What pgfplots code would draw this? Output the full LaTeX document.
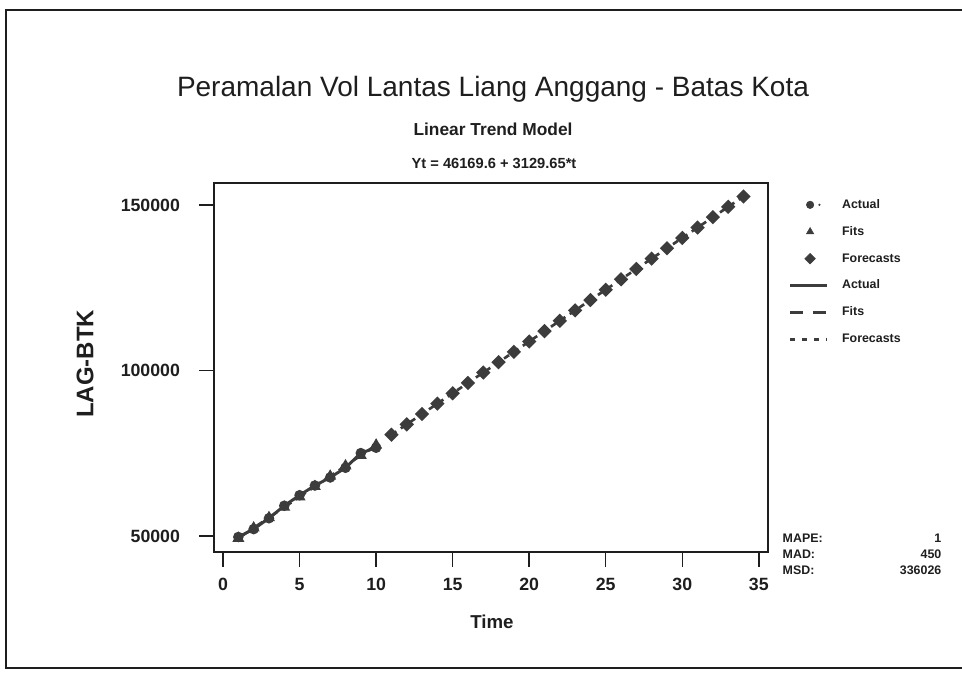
\documentclass[border=0pt]{standalone}
\usepackage{fontspec}
\setmainfont{Liberation Sans}
\usepackage{pgfplots}
\pgfplotsset{compat=1.18}
\definecolor{ink}{HTML}{1E1E1E}
\definecolor{series}{HTML}{3C3C3C}
\newcommand{\fs}[1]{\fontsize{#1}{#1}\selectfont}
% legend pictures: a single symbol, or a short line
\pgfplotsset{
  symbolkey/.style={legend image code/.code={\draw[##1] plot coordinates {(15pt,0pt)};}},
  actualkey/.style={legend image code/.code={\draw[##1] plot coordinates {(15pt,0pt)};
      \fill[series] (22pt,0pt) circle (0.6pt);}},
  linekey/.style={legend image code/.code={\draw[##1] (0pt,0pt) -- (28pt,0pt);}},
}

\begin{document}
\begin{tikzpicture}
\useasboundingbox (0,0) rectangle (721.5pt,504.75pt);
\begin{axis}[
  at={(160.5pt,90.75pt)}, anchor=south west,
  scale only axis, width=415.5pt, height=276.75pt,
  xmin=-0.59, xmax=35.6, ymin=45166, ymax=156647,
  xtick={0,5,...,35}, ytick={50000,100000,150000},
  xticklabels={0,5,10,15,20,25,30,35},
  yticklabels={50000,100000,150000},
  scaled y ticks=false,
  xtick pos=lower, ytick pos=left,
  tick align=outside,
  major tick length=11pt,
  every tick/.style={ink, line width=1.1pt},
  axis line style={ink, line width=1.2pt},
  y tick label style={xshift=-11pt},
  x tick label style={yshift=-5pt},
  tick label style={font=\bfseries\fs{13.3}, text=ink},
  legend style={at={(axis description cs:1.037,0.965)}, anchor=north west,
    draw=none, fill=none, inner sep=0pt, row sep=7.2pt, column sep=8pt,
    font=\bfseries\fs{9.3}, text=ink,
    nodes={inner sep=2pt, text height=7pt, text depth=2pt}},
  legend cell align=left,
]
% fitted trend, t = 1..10
\addplot[forget plot, series, line width=2pt, dash pattern=on 9pt off 4pt,
  mark=triangle*, mark size=3.2pt, mark options={solid}] coordinates {
  (1,49299.3) (2,52428.9) (3,55558.6) (4,58688.2) (5,61817.9)
  (6,64947.5) (7,68077.2) (8,71206.8) (9,74336.5) (10,77466.1)};
% observed volumes, t = 1..10
\addplot[forget plot, series, line width=2.2pt,
  mark=*, mark size=2.8pt, mark options={solid}] coordinates {
  (1,49700) (2,52080) (3,55360) (4,59140) (5,62320)
  (6,65250) (7,67680) (8,70610) (9,75040) (10,76670)};
% forecasts, t = 11..34
\addplot[forget plot, series, line width=2pt, dash pattern=on 4.5pt off 4pt,
  mark=square*, mark size=2.8pt, mark options={solid, rotate=45}] coordinates {
  (11,80595.8) (12,83725.4) (13,86855.1) (14,89984.7) (15,93114.4)
  (16,96244.0) (17,99373.7) (18,102503.3) (19,105633.0) (20,108762.6)
  (21,111892.3) (22,115021.9) (23,118151.6) (24,121281.2) (25,124410.9)
  (26,127540.5) (27,130670.2) (28,133799.8) (29,136929.5) (30,140059.1)
  (31,143188.8) (32,146318.4) (33,149448.1) (34,152577.7)};

\addlegendimage{series, mark=*, mark size=2.8pt, actualkey}
\addlegendentry{Actual}
\addlegendimage{series, mark=triangle*, mark size=3.2pt, symbolkey}
\addlegendentry{Fits}
\addlegendimage{series, mark=square*, mark size=2.8pt, mark options={rotate=45}, symbolkey}
\addlegendentry{Forecasts}
\addlegendimage{series, line width=2pt, linekey}
\addlegendentry{Actual}
\addlegendimage{series, line width=2pt, dash pattern=on 10pt off 7pt, linekey}
\addlegendentry{Fits}
\addlegendimage{series, line width=2pt, dash pattern=on 4pt off 5pt, linekey}
\addlegendentry{Forecasts}
\end{axis}

\begin{scope}[x=0.75pt, y=-0.75pt, shift={(0pt,504.75pt)}]
  \draw[ink, line width=1.5pt] (962,10) -- (6,10) -- (6,668) -- (962,668);
  \node[font=\fs{21}, text=ink] at (493,89) {Peramalan Vol Lantas Liang Anggang - Batas Kota};
  \node[font=\bfseries\fs{13}, text=ink] at (493,129) {Linear Trend Model};
  \node[font=\bfseries\fs{11}, text=ink] at (494,163) {Yt = 46169.6 + 3129.65*t};
  \node[font=\bfseries\fs{18}, text=ink, rotate=90] at (85,364) {LAG-BTK};
  \node[font=\bfseries\fs{14}, text=ink] at (492,622) {Time};
  \node[font=\bfseries\fs{9.3}, text=ink, anchor=west] at (778,538) {MAPE:};
  \node[font=\bfseries\fs{9.3}, text=ink, anchor=west] at (778,554) {MAD:};
  \node[font=\bfseries\fs{9.3}, text=ink, anchor=west] at (778,570) {MSD:};
  \node[font=\bfseries\fs{9.3}, text=ink, anchor=east] at (946,538) {1};
  \node[font=\bfseries\fs{9.3}, text=ink, anchor=east] at (946,554) {450};
  \node[font=\bfseries\fs{9.3}, text=ink, anchor=east] at (946,570) {336026};
\end{scope}
\end{tikzpicture}
\end{document}
